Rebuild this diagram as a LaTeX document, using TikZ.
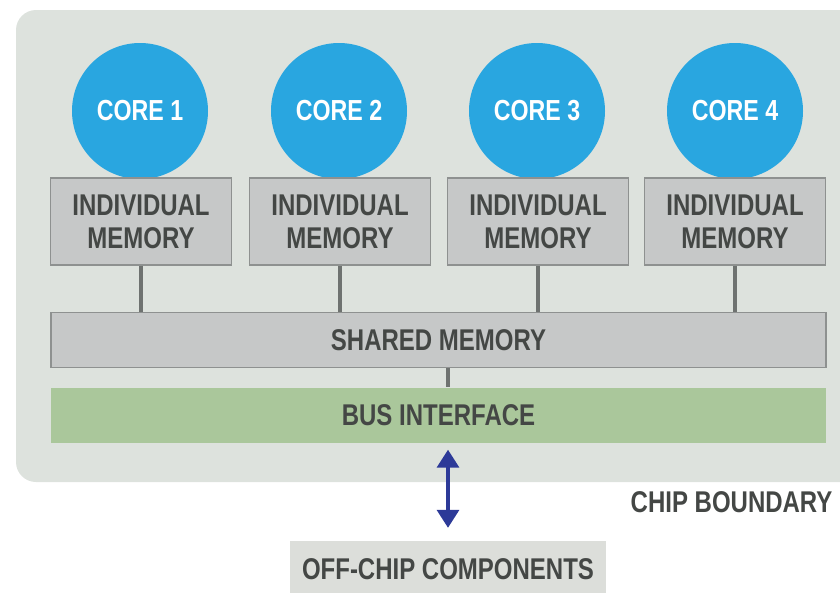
\documentclass[tikz,border=0pt]{standalone}
\usepackage{fontspec}
\setmainfont{Liberation Sans}[FakeStretch=0.8]
\usetikzlibrary{arrows.meta}
\definecolor{chipbg}{HTML}{DDE2DD}
\definecolor{coreblue}{HTML}{29A6E0}
\definecolor{memfill}{HTML}{C6C8C8}
\definecolor{memline}{HTML}{8E9190}
\definecolor{busgreen}{HTML}{AAC79B}
\definecolor{offfill}{HTML}{DCDEDA}
\definecolor{labeltext}{HTML}{444745}
\definecolor{wire}{HTML}{6E7270}
\definecolor{linkblue}{HTML}{2D3A98}
\tikzset{
  lbl/.style={font=\bfseries\fontsize{30}{33}\selectfont, text=labeltext},
  core/.style={circle, fill=coreblue, minimum size=136pt, inner sep=0pt,
    font=\bfseries\fontsize{29}{33}\selectfont, text=white},
  indmem/.style={lbl, rectangle, fill=memfill, draw=memline, line width=1.5pt,
    minimum width=181pt, minimum height=87pt, align=center, inner sep=0pt},
  bar/.style={lbl, rectangle, minimum width=775pt, minimum height=55pt, inner sep=0pt},
  wirestyle/.style={draw=wire, line width=4pt},
  linkarrow/.style={draw=linkblue, line width=3.5pt,
    {Triangle[width=22pt,length=18pt]}-{Triangle[width=22pt,length=18pt]}},
}
\begin{document}
\begin{tikzpicture}[x=1pt, y=-1pt]
  \useasboundingbox (0,0) rectangle (840,592);
  % chip area
  \fill[chipbg, rounded corners=20pt] (16,10) rectangle (880,482);
  % cores
  \foreach \i/\cx in {1/140, 2/339, 3/537, 4/735}
    \node[core] (core\i) at (\cx,111) {CORE \i};
  % individual memories
  \foreach \i/\mx in {1/141, 2/340, 3/538, 4/735}
    \node[indmem] (mem\i) at (\mx,221.5) {INDIVIDUAL\\MEMORY};
  % shared memory and bus interface
  \node[bar, fill=memfill, draw=memline, line width=1.5pt] (shared) at (438.5,340) {SHARED MEMORY};
  \node[bar, fill=busgreen] (bus) at (438.5,415) {BUS INTERFACE};
  % off-chip block and boundary label
  \node[lbl, fill=offfill, minimum width=316pt, minimum height=56pt, inner sep=0pt] (off) at (448,569) {OFF-CHIP COMPONENTS};
  \node[lbl, anchor=east] (boundary) at (836,502) {CHIP BOUNDARY};
  % wires
  \foreach \i in {1,...,4}
    \draw[wirestyle] (mem\i.south) -- (mem\i.south |- shared.north);
  \draw[wirestyle] (shared.south -| off.north) -- (bus.north -| off.north);
  % link across the chip boundary
  \draw[linkarrow, shorten <=7pt, shorten >=13pt] (bus.south -| off.north) -- (off.north);
\end{tikzpicture}
\end{document}
